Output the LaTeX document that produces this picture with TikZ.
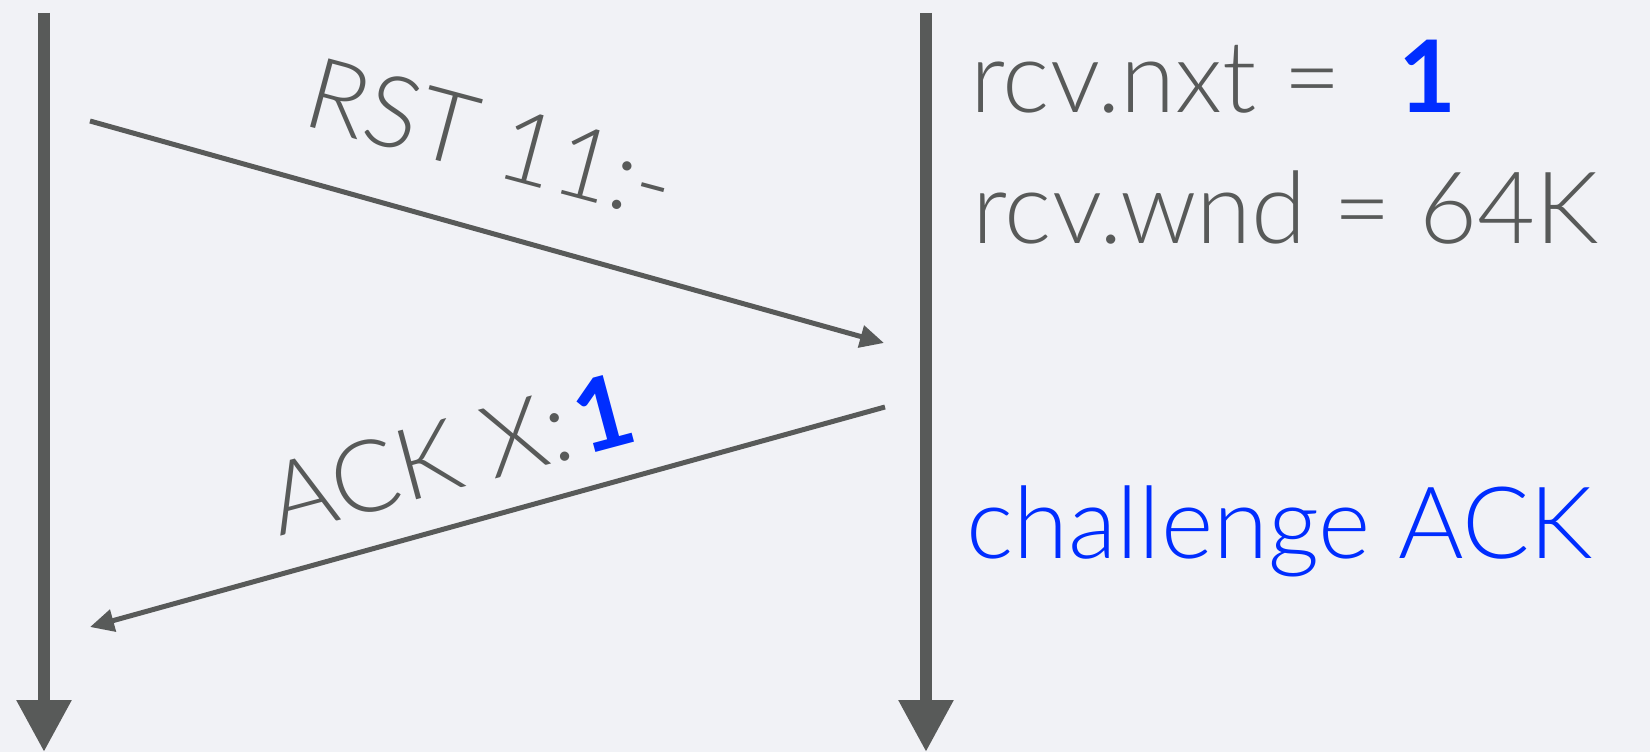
\documentclass[tikz,border=0pt]{standalone}
\usepackage{fontspec}
\setmainfont{Lato}[UprightFont={* Light},BoldFont={* Bold}]
\usetikzlibrary{arrows.meta}
\definecolor{bg}{RGB}{241,242,246}
\definecolor{ink}{RGB}{88,90,89}
\definecolor{hl}{RGB}{0,45,255}
\begin{document}
\begin{tikzpicture}[x=1pt,y=-1pt,
  timeline/.style={draw=ink,line width=12pt,-{Triangle[length=52pt,width=52pt]}},
  msg/.style={draw=ink,line width=5pt,-{Triangle[length=24pt,width=22pt]}},
  lbl/.style={inner sep=0pt,text=ink,font=\fontsize{100}{120}\selectfont},
]
\fill[bg] (0,0) rectangle (1650,752);
\useasboundingbox (0,0) rectangle (1650,752);
\coordinate (lt) at (44,13);
\coordinate (lb) at (44,752);
\coordinate (rt) at (926,13);
\coordinate (rb) at (926,752);
\coordinate (rstS) at (90,121);
\coordinate (rstE) at (884,343);
\coordinate (ackS) at (885,407);
\coordinate (ackE) at (90,627);
\draw[timeline] (lt) -- (lb);
\draw[timeline] (rt) -- (rb);
\draw[msg] (rstS) -- (rstE);
\draw[msg] (ackS) -- (ackE);
\node[lbl,anchor=base west,rotate=-15] (rstlbl) at (300,124) {RST 11:-};
\node[lbl,anchor=base west,rotate=15] (acklbl) at (279,537) {ACK X:\hspace{0.08em}\textcolor{hl}{\textbf{1}}};
\node[lbl,anchor=base west] (nxt) at (970,113) {rcv.nxt = \hspace{0.3em}\textcolor{hl}{\textbf{1}}};
\node[lbl,anchor=base west] (wnd) at (972,243) {rcv.wnd = 64K};
\node[lbl,anchor=base west,text=hl] (chal) at (966,558) {challenge ACK};
\end{tikzpicture}
\end{document}
